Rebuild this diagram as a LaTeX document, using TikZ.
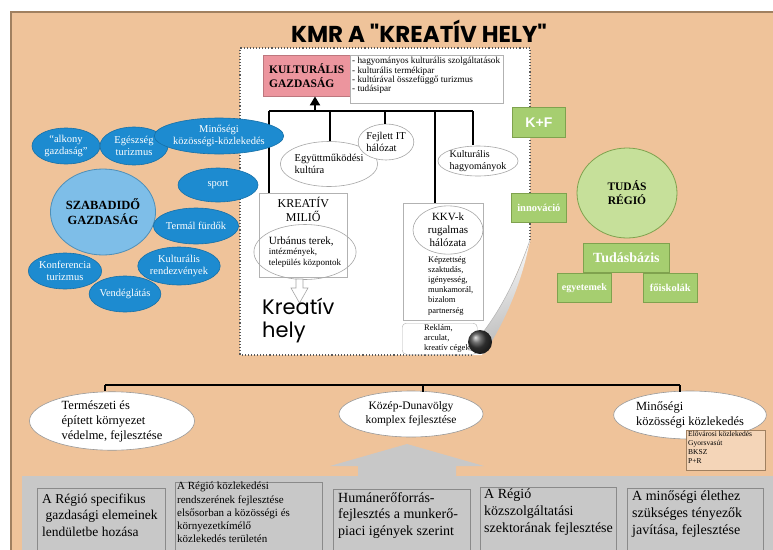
\documentclass[tikz,border=0pt]{standalone}
\usepackage{fontspec}
\setmainfont{Liberation Serif}
\newfontfamily\comic{Poppins}
\newfontfamily\sansf{Liberation Sans}
\usetikzlibrary{shapes.geometric,arrows.meta}
\definecolor{orangebg}{HTML}{EFC39A}
\definecolor{brownline}{HTML}{A08060}
\definecolor{pinkfill}{HTML}{EC959E}
\definecolor{greenfill}{HTML}{A6CE70}
\definecolor{greenline}{HTML}{7FA24E}
\definecolor{lgreen}{HTML}{C6E09A}
\definecolor{dblue}{HTML}{1D8BD0}
\definecolor{dblueline}{HTML}{1670A8}
\definecolor{lblue}{HTML}{7EBEE8}
\definecolor{lblueline}{HTML}{4E8FB8}
\definecolor{grayfill}{HTML}{C8C8C8}
\definecolor{grayline}{HTML}{8A8A8A}
\newcommand{\fs}[1]{\fontsize{#1}{1.2\dimexpr#1pt\relax}\selectfont}
\tikzset{
  wellipse/.style={ellipse, draw=gray!70, fill=white, inner sep=0pt, line width=0.6pt},
  bellipse/.style={ellipse, draw=dblueline, fill=dblue, text=white, inner sep=0pt, align=center, font=\fs{10.5}, line width=0.6pt},
  greenbox/.style={rectangle, draw=greenline, fill=greenfill, text=white, inner sep=0pt, anchor=north west, line width=0.8pt},
  graybox/.style={rectangle, draw=gray!60, fill=white, inner sep=0pt, anchor=north west, line width=0.6pt},
  btmbox/.style={rectangle, draw=grayline, fill=grayfill, inner sep=0pt, anchor=north west, line width=0.8pt, minimum height=80},
  btmtxt/.style={anchor=north west, align=left, inner sep=0pt},
  bar/.style={line width=2pt, black},
  thinbar/.style={line width=1.1pt, black},
}
\begin{document}
\begin{tikzpicture}[x=1pt,y=-1pt]
\useasboundingbox (0,0) rectangle (773,549);
\clip (0,0) rectangle (773,549);
\fill[white] (0,0) rectangle (773,549);
\fill[orangebg] (11,12) rectangle (790,570);
\draw[brownline, line width=1.2pt] (11,570) -- (11,12) -- (790,12);

% title
\node[font=\comic\bfseries\fs{23}] (title) at (419,31) {KMR A "KREATÍV HELY"};

% white panel
\fill[white] (240,48) -- (530,48) -- (530,242) -- (482,355) -- (240,355) -- cycle;
\draw[dotted, line width=1.1pt, gray!70!black] (472,355) -- (240,355) -- (240,48) -- (530,48) -- (530,242);

% kulturalis gazdasag
\node[rectangle, fill=pinkfill, draw=pinkfill!80!black, inner sep=0pt, anchor=north west, minimum width=87, minimum height=41, align=left, font=\bfseries\fs{11.5}] (kg) at (263,55) {KULTURÁLIS\\GAZDASÁG};
\node[rectangle, draw=gray!60, fill=white, anchor=north west, minimum width=153, minimum height=48, inner sep=0pt] (kgl) at (350,55) {};
\node[anchor=north west, align=left, inner sep=0pt, font=\fs{9.2}] (kgltxt) at (352,57) {- hagyományos kulturális szolgáltatások\\[-1.6pt]- kulturális termékipar\\[-1.6pt]- kultúrával összefüggő turizmus\\[-1.6pt]- tudásipar};

% ellipses in panel
\node[wellipse, minimum width=88, minimum height=45, align=left, font=\fs{10.5}] (egy) at (329,164) {Együttműködési\\kultúra};
\node[wellipse, minimum width=54, minimum height=36, align=left, font=\fs{10.5}] (fejl) at (386,142) {Fejlett IT\\hálózat};
\node[wellipse, minimum width=80, minimum height=30, align=left, font=\fs{10}] (kh) at (478,161) {Kulturális\\hagyományok};

% kreativ milio
\node[graybox, minimum width=88, minimum height=84] (milio) at (259,193) {};
\node[anchor=north, align=center, inner sep=0pt, font=\fs{12}] (miliotxt) at ([yshift=-4]milio.north) {KREATÍV\\MILIŐ};
\node[wellipse, fill=none, minimum width=86, minimum height=55, align=left, font=\fs{9}] (urb) at (305,252) {{\fs{11}Urbánus terek,}\\intézmények,\\település központok};
\draw[gray!70, fill=white, line width=0.6pt] (296,279) -- (303,279) -- (303,288) -- (308,288) -- (299.5,303) -- (291,288) -- (296,288) -- cycle;
\node[anchor=north west, align=left, inner sep=0pt, font=\comic\fs{21}] (kh2) at (262,298) {Kreatív\\[-2pt]hely};

% KKV
\node[graybox, minimum width=80, minimum height=117] (kkv) at (403,203) {};
\node[wellipse, minimum width=70, minimum height=44, align=center, font=\fs{11}] (kkvell) at (448,230) {KKV-k\\rugalmas\\hálózata};
\node[anchor=north west, align=left, inner sep=0pt, font=\fs{8.5}] (kkvtxt) at (428,256) {Képzettség\\szaktudás,\\igényesség,\\munkamorál,\\bizalom\\partnerség};
\node[rectangle, rounded corners=4pt, draw=gray!60, fill=white, anchor=north west, minimum width=75, minimum height=31, inner sep=0pt] (rekl) at (402,323) {};
\node[anchor=north west, align=left, inner sep=0pt, font=\fs{8.5}] (rekltxt) at (424,324) {Reklám,\\arculat,\\kreatív cégek};

% page curl
\shade[left color=white, right color=gray!55, shading angle=20] (530,240) .. controls (516,280) and (498,318) .. (468,350) -- (484,354) .. controls (506,320) and (522,282) .. (530,240) -- cycle;
\draw[gray!60, line width=0.5pt] (530,240) .. controls (516,280) and (498,318) .. (468,350);
\shade[ball color=black!75] (480,342) circle (12);

% bar and connectors
\coordinate (bl) at (269,111);
\coordinate (br) at (473,111);
\coordinate (bm) at (315,111);
\coordinate (b2) at (330,111);
\coordinate (b3) at (385,111);
\coordinate (b4) at (435,111);
\draw[bar] (bl) -- (br);
\draw[bar, -{Triangle[length=9pt,width=10pt]}] (bm) -- (bm |- kg.south);
\draw[bar] (bl) -- (bl |- milio.north);
\draw[bar] (b2) -- (b2 |- egy.north);
\draw[bar] (b3) -- (b3 |- fejl.north);
\draw[bar] (b4) -- (b4 |- kkv.north);
\draw[bar] (br) -- ([yshift=1]br |- kh.north);

% green
\node[greenbox, minimum width=53, minimum height=30, font=\sansf\bfseries\fs{14}] (kf) at (512,107) {K+F};
\node[greenbox, minimum width=55, minimum height=29, font=\bfseries\fs{10.5}] (innov) at (511,193) {innováció};
\node[ellipse, draw=greenline, fill=lgreen, minimum width=100, minimum height=90, inner sep=0pt, align=center, font=\bfseries\fs{11.5}, line width=0.8pt] (tudas) at (627,193) {TUDÁS\\RÉGIÓ};
\node[greenbox, minimum width=86, minimum height=29, font=\bfseries\fs{14}] (tb) at (583,243) {Tudásbázis};
\node[greenbox, minimum width=54, minimum height=29, font=\bfseries\fs{10}] (egyet) at (557,273) {egyetemek};
\node[greenbox, minimum width=54, minimum height=29, font=\bfseries\fs{10.5}] (foisk) at (643,273) {főiskolák};

% blue
\node[ellipse, draw=lblueline, fill=lblue, minimum width=92, minimum height=86, inner sep=0pt, align=center, font=\bfseries\fs{12.5}, line width=0.8pt] (szab) at (103,212) {SZABADIDŐ\\GAZDASÁG};
\node[bellipse, minimum width=68, minimum height=36] (alk) at (66,146) {“alkony\\gazdaság”};
\node[bellipse, minimum width=68, minimum height=38] (eg) at (134,146) {Egészség\\turizmus};
\node[bellipse, minimum width=102, minimum height=36] (minos) at (219,136) {Minőségi\\közösségi-közlekedés};
\node[bellipse, minimum width=80, minimum height=34] (sport) at (218,185) {sport};
\node[bellipse, minimum width=68, minimum height=36] (termal) at (196,226) {Termál fürdők};
\node[bellipse, minimum width=68, minimum height=38] (kultr) at (179,266) {Kulturális\\rendezvények};
\node[bellipse, minimum width=70, minimum height=36] (konf) at (65,271) {Konferencia\\turizmus};
\node[bellipse, minimum width=70, minimum height=36] (vend) at (125,294) {Vendéglátás};

% bottom ellipses
\node[wellipse, minimum width=165, minimum height=52, align=left, font=\fs{12.5}, draw=gray!80] (term) at (112,421) {Természeti és\\épített környezet\\védelme, fejlesztése};
\node[wellipse, minimum width=144, minimum height=46, align=center, font=\fs{11.5}, draw=gray!80] (kozep) at (411,414) {Közép-Dunavölgy\\komplex fejlesztése};
\node[wellipse, minimum width=147, minimum height=48, align=left, font=\fs{12.5}, draw=gray!80] (minkoz) at (690,415) {Minőségi\\közösségi közlekedés};
\coordinate (hl) at (105,385);
\coordinate (hm) at (423,385);
\coordinate (hr) at (680,385);
\draw[thinbar] (hl) -- (hr);
\draw[thinbar] (hl) -- (hl |- term.north);
\draw[thinbar] (hm) -- ([yshift=-1]hm |- kozep.north);
\draw[thinbar] (hr) -- ([yshift=-1]hr |- minkoz.north);
\node[rectangle, draw=brownline, fill=orangebg!70!white, anchor=north west, minimum width=79, minimum height=40, inner sep=0pt] (small) at (686,430) {};
\node[anchor=north west, align=left, inner sep=0pt, font=\fs{7.5}] (smalltxt) at (688,431) {Elővárosi közlekedés\\Gyorsvasút\\BKSZ\\P+R};

% bottom gray panel and arrow
\fill[grayfill] (22,476) rectangle (790,570);
\fill[grayfill] (358,477) -- (358,466) -- (330,466) -- (407,444) -- (484,466) -- (456,466) -- (456,477) -- cycle;
\node[btmbox, minimum width=128] (bx1) at (37,488) {};
\node[btmtxt, font=\fs{13.5}] (bt1) at (42,494) {A Régió specifikus\\\ gazdasági elemeinek\\lendületbe hozása};
\node[btmbox, minimum width=147] (bx2) at (175,482) {};
\node[btmtxt, font=\fs{11}] (bt2) at (177,482) {A Régió közlekedési\\rendszerének fejlesztése\\elsősorban a közösségi és\\környezetkímélő\\közlekedés területén};
\node[btmbox, minimum width=137] (bx3) at (333,489) {};
\node[btmtxt, font=\fs{14}] (bt3) at (338,492) {Humánerőforrás-\\fejlesztés a munkerő-\\piaci igények szerint};
\node[btmbox, minimum width=136] (bx4) at (480,487) {};
\node[btmtxt, font=\fs{14}] (bt4) at (484,489) {A Régió\\közszolgáltatási\\szektorának fejlesztése};
\node[btmbox, minimum width=136] (bx5) at (627,488) {};
\node[btmtxt, font=\fs{14}] (bt5) at (632,491) {A minőségi élethez\\szükséges tényezők\\javítása, fejlesztése};
\end{tikzpicture}
\end{document}
